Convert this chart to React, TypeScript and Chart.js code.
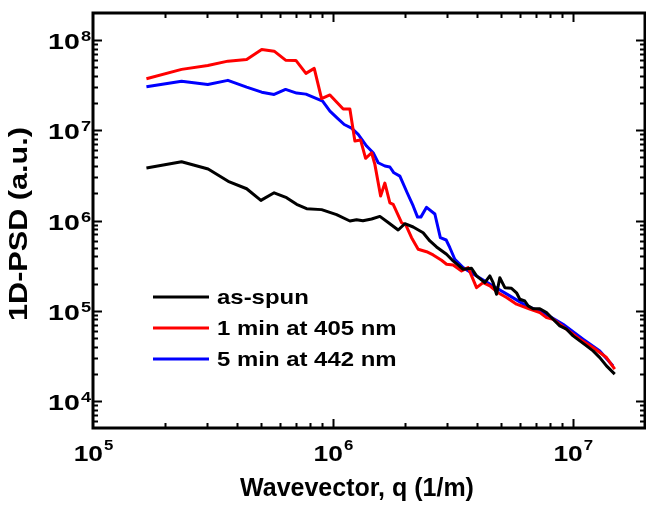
import React, { useEffect, useRef } from "react";
import { Chart, registerables } from "chart.js";

Chart.register(...registerables);

// ---- data ----
const seriesNames = ["as-spun", "1 min at 405 nm", "5 min at 442 nm"];
const seriesColors = ["#000000", "#ff0000", "#0000ff"];

const qAsSpun = [1.67e5, 2.34e5, 3.02e5, 3.66e5, 4.37e5, 5.01e5, 5.69e5, 6.41e5, 7.06e5, 7.77e5, 8.97e5, 1.036e6, 1.177e6, 1.255e6, 1.334e6, 1.45e6, 1.57e6, 1.717e6, 1.871e6, 1.995e6, 2.161e6, 2.378e6, 2.537e6, 2.704e6, 2.977e6, 3.171e6, 3.491e6, 3.784e6, 3.97e6, 4.298e6, 4.511e6, 4.655e6, 4.81e6, 4.964e6, 5.21e6, 5.554e6, 5.828e6, 6.016e6, 6.31e6, 6.514e6, 6.833e6, 7.29e6, 7.77e6, 8.28e6, 8.83e6, 9.42e6, 1.003e7, 1.07e7, 1.141e7, 1.215e7, 1.296e7, 1.382e7, 1.496e7];
const psdAsSpun = [3.82e6, 4.48e6, 3.72e6, 2.72e6, 2.25e6, 1.67e6, 2.03e6, 1.79e6, 1.51e6, 1.35e6, 1.32e6, 1.16e6, 9.87e5, 1.02e6, 9.92e5, 1.04e6, 1.11e6, 9.31e5, 7.85e5, 9.21e5, 8.47e5, 7.32e5, 5.93e5, 5.09e5, 4.22e5, 3.56e5, 2.88e5, 2.95e5, 2.43e5, 2.05e5, 2.43e5, 2.05e5, 1.52e5, 2.32e5, 1.8e5, 1.77e5, 1.58e5, 1.34e5, 1.28e5, 1.13e5, 1.05e5, 1.05e5, 9.51e4, 8.04e4, 6.78e4, 6.23e4, 5.25e4, 4.62e4, 4.07e4, 3.58e4, 3.02e4, 2.44e4, 1.98e4];

const q405 = [1.67e5, 2.34e5, 3.01e5, 3.65e5, 4.37e5, 5.05e5, 5.69e5, 6.35e5, 7.01e5, 7.72e5, 8.36e5, 8.97e5, 9.72e5, 1.104e6, 1.177e6, 1.235e6, 1.305e6, 1.369e6, 1.45e6, 1.496e6, 1.581e6, 1.647e6, 1.728e6, 1.784e6, 1.933e6, 2.015e6, 2.128e6, 2.267e6, 2.457e6, 2.618e6, 2.837e6, 2.977e6, 3.171e6, 3.439e6, 3.663e6, 3.97e6, 4.229e6, 4.511e6, 4.885e6, 5.294e6, 5.828e6, 6.62e6, 7.29e6, 7.77e6, 8.28e6, 9.42e6, 1.07e7, 1.215e7, 1.382e7, 1.496e7];
const psd405 = [3.73e7, 4.74e7, 5.24e7, 5.85e7, 6.11e7, 7.89e7, 7.55e7, 6.0e7, 5.96e7, 4.28e7, 4.86e7, 2.25e7, 2.47e7, 1.72e7, 1.72e7, 7.6e6, 7.8e6, 4.89e6, 5.64e6, 4.19e6, 1.87e6, 2.6e6, 1.57e6, 1.51e6, 9.45e5, 8.91e5, 6.45e5, 4.8e5, 4.51e5, 4.15e5, 3.62e5, 3.27e5, 3.21e5, 2.76e5, 3.0e5, 1.8e5, 2.05e5, 1.88e5, 1.58e5, 1.4e5, 1.18e5, 1.04e5, 9.51e4, 8.38e4, 8.04e4, 6.23e4, 4.83e4, 3.9e4, 3.02e4, 2.25e4];

const q442 = [1.67e5, 2.34e5, 3.01e5, 3.65e5, 4.37e5, 5.05e5, 5.69e5, 6.35e5, 7.06e5, 7.72e5, 9.06e5, 9.72e5, 1.046e6, 1.115e6, 1.196e6, 1.275e6, 1.382e6, 1.472e6, 1.545e6, 1.647e6, 1.728e6, 1.796e6, 1.902e6, 2.04e6, 2.161e6, 2.254e6, 2.326e6, 2.457e6, 2.661e6, 2.805e6, 2.966e6, 3.073e6, 3.223e6, 3.491e6, 3.97e6, 4.655e6, 5.464e6, 6.415e6, 7.52e6, 9.11e6, 1.104e7, 1.296e7, 1.472e7];
const psd442 = [3.04e7, 3.51e7, 3.23e7, 3.58e7, 3.01e7, 2.65e7, 2.5e7, 2.84e7, 2.59e7, 2.52e7, 2.11e7, 1.63e7, 1.36e7, 1.16e7, 1.06e7, 9.02e6, 6.69e6, 5.64e6, 4.37e6, 4.02e6, 3.92e6, 3.38e6, 3.11e6, 2.03e6, 1.45e6, 1.09e6, 1.09e6, 1.4e6, 1.18e6, 6.45e5, 6.08e5, 4.99e5, 3.72e5, 3.0e5, 2.43e5, 1.88e5, 1.46e5, 1.13e5, 9.51e4, 7.08e4, 4.83e4, 3.58e4, 2.44e4];

const xRange = [1e5, 2e7];
const yRange = [5e3, 2e8];
const xTickExponents = [5, 6, 7];
const yTickExponents = [4, 5, 6, 7, 8];
const xTitle = "Wavevector, q (1/m)";
const yTitle = "1D-PSD (a.u.)";

const FONT = '"Liberation Sans", Arial, sans-serif';

function toPoints(qs: number[], vs: number[]) {
  return qs.map((q, i) => ({ x: q, y: vs[i] }));
}

function stretchedText(
  ctx: CanvasRenderingContext2D,
  text: string,
  x: number,
  y: number,
  font: string,
  sx: number,
  align: "left" | "center" | "right"
) {
  ctx.save();
  ctx.font = font;
  const w = ctx.measureText(text).width * sx;
  const x0 = align === "center" ? x - w / 2 : align === "right" ? x - w : x;
  ctx.translate(x0, y);
  ctx.scale(sx, 1);
  ctx.textAlign = "left";
  ctx.fillText(text, 0, 0);
  ctx.restore();
  return w;
}

function measure(ctx: CanvasRenderingContext2D, text: string, font: string, sx: number) {
  ctx.save();
  ctx.font = font;
  const w = ctx.measureText(text).width * sx;
  ctx.restore();
  return w;
}

const framePlugin = {
  id: "framePlugin",
  afterDraw(chart: any) {
    const ctx: CanvasRenderingContext2D = chart.ctx;
    const { left, right, top, bottom } = chart.chartArea;
    const xs = chart.scales.x;
    const ys = chart.scales.y;
    ctx.save();
    ctx.fillStyle = "#000";
    ctx.strokeStyle = "#000";
    ctx.textBaseline = "alphabetic";

    // ticks
    ctx.lineWidth = 2;
    for (let e = 4; e <= 8; e++) {
      for (let m = 1; m <= 9; m++) {
        const v = m * Math.pow(10, e);
        if (v <= xs.min || v >= xs.max) continue;
        const px = Math.round(xs.getPixelForValue(v)) + 0.5;
        const len = m === 1 ? 9 : 5;
        ctx.beginPath();
        ctx.moveTo(px, bottom);
        ctx.lineTo(px, bottom - len);
        ctx.moveTo(px, top);
        ctx.lineTo(px, top + len);
        ctx.stroke();
      }
    }
    for (let e = 3; e <= 8; e++) {
      for (let m = 1; m <= 9; m++) {
        const v = m * Math.pow(10, e);
        if (v <= ys.min || v >= ys.max) continue;
        const py = Math.round(ys.getPixelForValue(v)) + 0.5;
        const len = m === 1 ? 9 : 5;
        ctx.beginPath();
        ctx.moveTo(left, py);
        ctx.lineTo(left + len, py);
        ctx.moveTo(right, py);
        ctx.lineTo(right - len, py);
        ctx.stroke();
      }
    }

    // frame
    ctx.lineWidth = 3;
    ctx.strokeRect(left, top, right - left, bottom - top);

    const baseFont = `bold 22px ${FONT}`;
    const supFont = `bold 14px ${FONT}`;

    // x tick labels
    const sxX = 1.2;
    for (const e of xTickExponents) {
      const px = xs.getPixelForValue(Math.pow(10, e));
      const wb = measure(ctx, "10", baseFont, sxX);
      const ws = measure(ctx, String(e), supFont, sxX);
      const x0 = px - (wb + ws) / 2;
      stretchedText(ctx, "10", x0, bottom + 33, baseFont, sxX, "left");
      stretchedText(ctx, String(e), x0 + wb + 1, bottom + 22, supFont, sxX, "left");
    }

    // y tick labels
    const sxY = 1.3;
    for (const e of yTickExponents) {
      const py = ys.getPixelForValue(Math.pow(10, e));
      const ws = measure(ctx, String(e), supFont, sxY);
      const xr = left - 2;
      stretchedText(ctx, String(e), xr, py + 1, supFont, sxY, "right");
      stretchedText(ctx, "10", xr - ws - 1, py + 9, baseFont, sxY, "right");
    }

    // axis titles
    stretchedText(ctx, xTitle, 357, 496, `bold 25px ${FONT}`, 1.0, "center");
    ctx.save();
    ctx.translate(18, 224);
    ctx.rotate(-Math.PI / 2);
    {
      const f = `bold 25px ${FONT}`;
      const w = measure(ctx, yTitle, f, 1);
      stretchedText(ctx, yTitle, 0, 9, f, 194 / w, "center");
    }
    ctx.restore();

    // legend
    const legendY = [297, 328, 359];
    const legFont = `bold 21px ${FONT}`;
    ctx.textBaseline = "middle";
    seriesNames.forEach((name, i) => {
      ctx.strokeStyle = seriesColors[i];
      ctx.lineWidth = 3;
      ctx.beginPath();
      ctx.moveTo(153, legendY[i]);
      ctx.lineTo(209, legendY[i]);
      ctx.stroke();
      ctx.fillStyle = "#000";
      stretchedText(ctx, name, 217, legendY[i] + 1, legFont, 1.14, "left");
    });
    ctx.restore();
  },
};

export default function App() {
  const canvasRef = useRef<HTMLCanvasElement | null>(null);

  useEffect(() => {
    document.body.style.margin = "0";
    const canvas = canvasRef.current;
    if (!canvas) return;
    const chart = new Chart(canvas, {
      type: "scatter",
      data: {
        datasets: [
          { label: seriesNames[0], data: toPoints(qAsSpun, psdAsSpun), borderColor: seriesColors[0] },
          { label: seriesNames[1], data: toPoints(q405, psd405), borderColor: seriesColors[1] },
          { label: seriesNames[2], data: toPoints(q442, psd442), borderColor: seriesColors[2] },
        ].map((d) => ({
          ...d,
          showLine: true,
          borderWidth: 3,
          pointRadius: 0,
          tension: 0,
          fill: false,
          borderJoinStyle: "round" as const,
        })),
      },
      options: {
        responsive: false,
        animation: false,
        layout: { padding: { left: 93, top: 13, right: 1, bottom: 78 } },
        plugins: { legend: { display: false }, tooltip: { enabled: false } },
        scales: {
          x: { type: "logarithmic", min: xRange[0], max: xRange[1], display: false },
          y: { type: "logarithmic", min: yRange[0], max: yRange[1], display: false },
        },
      },
      plugins: [framePlugin],
    });
    return () => chart.destroy();
  }, []);

  return <canvas ref={canvasRef} width={646} height={506} style={{ display: "block" }} />;
}
